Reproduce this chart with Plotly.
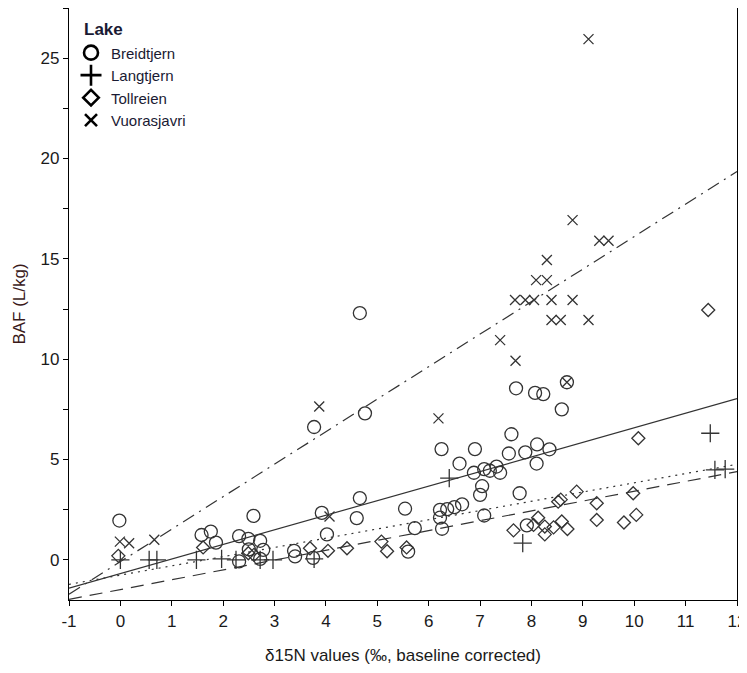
import numpy as np
import plotly.graph_objects as go

# ---- data ----
breid_x = [-0.02, 1.58, 1.76, 1.86, 2.59, 2.31, 2.49, 2.72, 2.78, 2.50, 2.31, 2.72, 3.38, 3.40,
           3.92, 4.02, 4.60, 4.66, 3.75, 3.77, 4.76, 4.66, 7.70, 8.07, 8.23, 8.59, 8.69,
           6.25, 6.90, 6.60, 7.61, 7.56, 7.88, 8.11, 8.10, 8.35, 6.88, 7.08, 7.19, 7.32, 7.39,
           7.04, 7.00, 5.54, 5.73, 6.22, 6.22, 6.26, 6.36, 6.50, 6.65, 7.08, 7.77, 7.91, 5.60]
breid_y = [1.96, 1.24, 1.41, 0.86, 2.19, 1.18, 1.05, 0.95, 0.50, 0.52, -0.08, 0.05, 0.45, 0.17,
           2.34, 1.27, 2.08, 3.08, 0.10, 6.62, 7.30, 12.30, 8.55, 8.32, 8.26, 7.50, 8.85,
           5.52, 5.52, 4.80, 6.26, 5.30, 5.36, 5.75, 4.80, 5.51, 4.34, 4.52, 4.44, 4.65, 4.34,
           3.67, 3.24, 2.55, 1.58, 2.49, 2.10, 1.55, 2.53, 2.63, 2.77, 2.21, 3.32, 1.72, 0.41]

langt_x = [0.0, 0.56, 0.71, 1.48, 1.97, 2.25, 2.72, 2.97, 3.77, 6.40, 7.83, 11.48, 11.57, 11.77]
langt_y = [0.0, 0.0, 0.0, 0.0, 0.05, 0.0, 0.0, 0.0, 0.05, 4.07, 0.83, 6.31, 4.48, 4.52]

toll_x = [-0.04, 1.61, 2.49, 2.60, 3.69, 4.04, 4.41, 5.08, 5.19, 5.57, 7.65, 8.04, 8.13, 8.26,
          8.26, 8.43, 8.59, 8.70, 8.52, 8.57, 8.88, 9.27, 9.27, 9.80, 9.98, 10.04, 10.08, 11.44]
toll_y = [0.20, 0.62, 0.33, 0.25, 0.58, 0.45, 0.58, 0.91, 0.43, 0.62, 1.47, 1.74, 2.10, 1.66,
          1.27, 1.62, 1.91, 1.54, 2.90, 3.00, 3.40, 2.82, 1.99, 1.86, 3.32, 2.24, 6.06, 12.45]

vuor_x = [-0.01, 0.17, 0.66, 3.87, 4.07, 6.19, 7.39, 7.69, 7.68, 7.88, 8.05, 8.39, 8.80, 8.39,
          8.57, 9.11, 8.09, 8.30, 8.30, 9.32, 9.50, 8.80, 9.11, 8.69]
vuor_y = [0.91, 0.83, 1.00, 7.64, 2.16, 7.05, 10.95, 9.92, 12.95, 12.95, 12.95, 12.95, 12.95, 11.95,
          11.95, 11.95, 13.94, 13.94, 14.94, 15.90, 15.90, 16.93, 25.95, 8.85]

lakes = ["Breidtjern", "Langtjern", "Tollreien", "Vuorasjavri"]
fit_intercept = [-0.68, -0.76, -1.48, -0.09]
fit_slope = [0.726, 0.46, 0.49, 1.62]

x_range = [-1, 12]
y_range = [-2, 27.5]
x_ticks = list(range(-1, 13))
x_tick_labels = [str(v) for v in x_ticks]
y_ticks = [0, 5, 10, 15, 20, 25]
y_tick_labels = [str(v) for v in y_ticks]

# ---- styling ----
ink = "#333333"
symbols = ["circle-open", "cross-thin-open", "diamond-open", "x-thin-open"]
sizes = [13, 13, 10, 10]
legend_sizes = [14, 15, 12, 12]
dashes = ["solid", "2px,5px", "13px,8px", "13px,6px,2px,6px"]
font_family = "Liberation Sans, Arial, sans-serif"
text_color = "#1a1a1a"

fig = go.Figure()

xs_all = [breid_x, langt_x, toll_x, vuor_x]
ys_all = [breid_y, langt_y, toll_y, vuor_y]

fx = np.array(x_range, dtype=float)
for i, lake in enumerate(lakes):
    fig.add_trace(go.Scatter(
        x=fx, y=fit_intercept[i] + fit_slope[i] * fx, mode="lines",
        line=dict(color=ink, width=1.2, dash=dashes[i]),
        showlegend=False, hoverinfo="skip"))

for i, lake in enumerate(lakes):
    fig.add_trace(go.Scatter(
        x=xs_all[i], y=ys_all[i], mode="markers", name=lake, showlegend=False,
        marker=dict(symbol=symbols[i], size=sizes[i], color=ink,
                    line=dict(color=ink, width=1.3))))

# legend entries (bolder symbols, as in the reference legend)
for i, lake in enumerate(lakes):
    fig.add_trace(go.Scatter(
        x=[None], y=[None], mode="markers", name=lake,
        marker=dict(symbol=symbols[i], size=legend_sizes[i], color="black",
                    line=dict(color="black", width=2.6))))

fig.update_layout(
    width=747, height=657,
    margin=dict(l=61, r=18, t=0, b=65),
    plot_bgcolor="white", paper_bgcolor="white",
    font=dict(family=font_family, size=17, color=text_color),
    legend=dict(
        x=0.003, y=0.952, xanchor="left", yanchor="top",
        bgcolor="rgba(0,0,0,0)", font=dict(size=15, color="#1a1a33"),
        itemsizing="trace", tracegroupgap=0),
    annotations=[dict(text="<b>Lake</b>", xref="paper", yref="paper",
                      x=0.019, y=0.963, xanchor="left", yanchor="middle",
                      showarrow=False, font=dict(size=17, color="#1a1a33"))],
)
fig.update_xaxes(
    range=x_range, tickmode="array", tickvals=x_ticks, ticktext=x_tick_labels,
    showgrid=False, zeroline=False, ticklabeloverflow="allow",
    showline=True, linecolor="black", linewidth=1.2, mirror=True,
    ticks="outside", ticklen=5, tickcolor="black",
    tickfont=dict(size=17, color=text_color),
    title=dict(text="δ15N values (‰, baseline corrected)", font=dict(size=17, color=text_color),
               standoff=22),
)
fig.update_yaxes(
    range=y_range, tickmode="array", tickvals=y_ticks, ticktext=y_tick_labels,
    showgrid=False, zeroline=False,
    showline=True, linecolor="black", linewidth=1.2, mirror=True,
    ticks="outside", ticklen=5, tickcolor="black",
    minor=dict(dtick=2.5, tick0=0, ticks="outside", ticklen=5, tickcolor="black"),
    tickfont=dict(size=17, color=text_color),
    title=dict(text="BAF (L/kg)", font=dict(size=17, color="#3a1a1a"), standoff=10),
)

fig.write_html("out.html")
